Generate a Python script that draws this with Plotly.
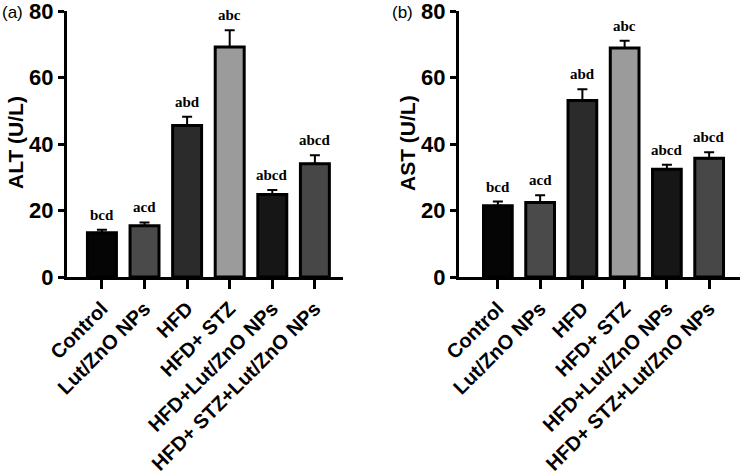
import plotly.graph_objects as go

categories = ["Control", "Lut/ZnO NPs", "HFD", "HFD+ STZ", "HFD+Lut/ZnO NPs", "HFD+ STZ+Lut/ZnO NPs"]
alt_mean = [13.3, 15.4, 45.6, 69.2, 24.8, 34.1]
alt_err = [0.9, 1.0, 2.6, 5.0, 1.4, 2.5]
alt_letters = ["bcd", "acd", "abd", "abc", "abcd", "abcd"]
ast_mean = [21.4, 22.4, 53.1, 68.9, 32.4, 35.7]
ast_err = [1.3, 2.2, 3.4, 2.2, 1.4, 1.8]
ast_letters = ["bcd", "acd", "abd", "abc", "abcd", "abcd"]
bar_colors = ["#050505", "#4a4a4a", "#2b2b2b", "#9b9b9b", "#161616", "#474747"]
y_ticks = [0, 20, 40, 60, 80]

fig = go.Figure()

panels = [
    ("x", "y", alt_mean, alt_err, alt_letters),
    ("x2", "y2", ast_mean, ast_err, ast_letters),
]
for xa, ya, m, e, lets in panels:
    fig.add_trace(go.Bar(
        x=categories, y=m, xaxis=xa, yaxis=ya, width=0.68,
        marker=dict(color=bar_colors, line=dict(color="black", width=3)),
        error_y=dict(type="data", symmetric=False, array=e, arrayminus=[0]*len(e),
                     color="black", thickness=2, width=5),
        showlegend=False, hoverinfo="skip",
    ))
    for c, v, er, t in zip(categories, m, e, lets):
        fig.add_annotation(x=c, y=v + er, xref=xa, yref=ya, text=t, showarrow=False,
                           yanchor="bottom", yshift=5,
                           font=dict(family="Liberation Serif", size=15, color="black", weight="bold"))

W, H = 742, 472
axis_common = dict(showline=True, linecolor="black", linewidth=3, ticks="outside", automargin=False,
                   tickcolor="black", tickwidth=3, showgrid=False, zeroline=False)
ydom = [1 - 277 / H, 1 - 11 / H]
xfont = dict(family="Liberation Sans", size=20, color="black", weight="bold")
yfont = dict(family="Liberation Sans", size=22, color="black", weight="bold")
fig.update_layout(
    width=W, height=H, margin=dict(l=0, r=0, t=0, b=0, autoexpand=False),
    plot_bgcolor="white", paper_bgcolor="white", bargap=0.3,
    xaxis=dict(domain=[67 / W, 343 / W], range=[-0.82, 5.66], anchor="y", ticklen=9,
               tickangle=-45, tickfont=xfont, **axis_common),
    yaxis=dict(domain=ydom, range=[0, 80.02], tickvals=y_ticks, anchor="x", ticklen=6,
               ticklabeloverflow="allow", tickfont=yfont, **axis_common),
    xaxis2=dict(domain=[459 / W, 740 / W], range=[-0.92, 5.73], anchor="y2", ticklen=9,
                tickangle=-45, tickfont=xfont, **axis_common),
    yaxis2=dict(domain=ydom, range=[0, 80.02], tickvals=y_ticks, anchor="x2", ticklen=6,
                ticklabeloverflow="allow", tickfont=yfont, **axis_common),
)

for xpx, txt in [(15, "ALT (U/L)"), (407, "AST (U/L)")]:
    fig.add_annotation(x=xpx / W, y=1 - 143 / H, xref="paper", yref="paper", text=txt, textangle=-90,
                       xanchor="center", yanchor="middle", showarrow=False,
                       font=dict(family="Liberation Sans", size=21, color="black", weight="bold"))
for xpx, txt in [(0, "(a)"), (390, "(b)")]:
    fig.add_annotation(x=xpx / W, y=1 - 1 / H, xref="paper", yref="paper", text=txt, xanchor="left",
                       yanchor="top", showarrow=False,
                       font=dict(family="Liberation Sans", size=17, color="black"))

fig.write_html("out.html", config={"displayModeBar": False},
               post_script="document.body.style.margin='0';")
